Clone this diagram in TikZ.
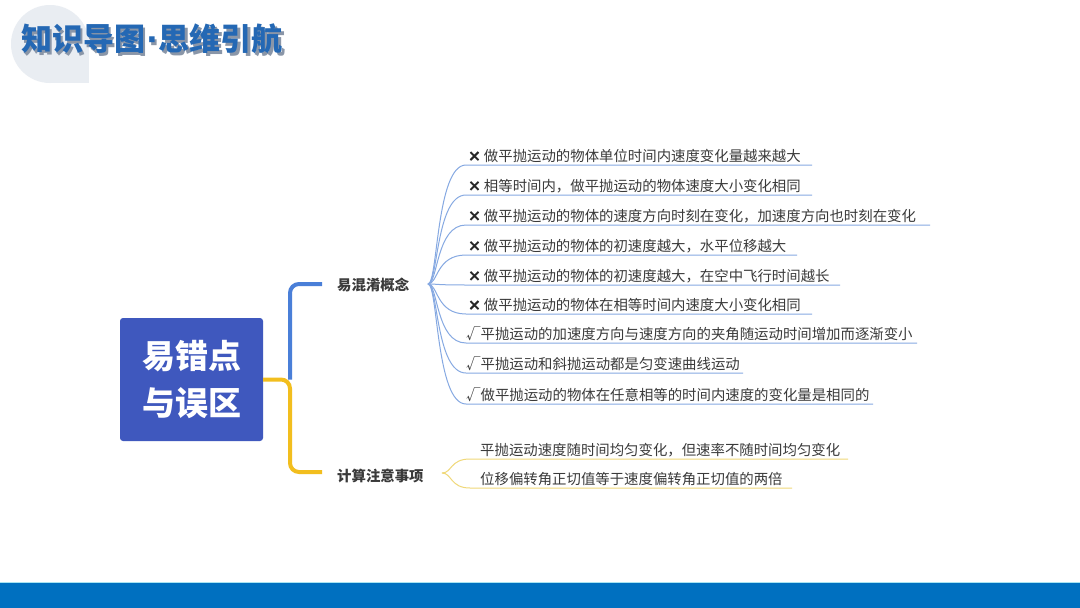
\documentclass[tikz,border=0pt]{standalone}
\usepackage{fontspec}
\setmainfont{Noto Sans CJK SC}
\newfontfamily\dejavu{DejaVu Sans}
\newfontfamily\dejavubold[FakeBold=2.5]{DejaVu Sans}
\definecolor{titleblue}{HTML}{2468B4}
\definecolor{boxblue}{HTML}{3F58BE}
\definecolor{brblue}{HTML}{4A7FD8}
\definecolor{bryellow}{HTML}{F2BE1E}
\definecolor{lnblue}{HTML}{86A9E2}
\definecolor{lnyellow}{HTML}{F0D878}
\definecolor{txt}{HTML}{3A3A3A}
\definecolor{barblue}{HTML}{0070C0}
\definecolor{barline}{HTML}{A8E4F2}
\definecolor{disc}{HTML}{E9EDF2}
\definecolor{tshadow}{HTML}{8A96A8}
\newcommand{\mytitletext}{知识导图{\dejavu\bfseries\kern1pt·\kern1pt}思维引航}
\newcommand{\xmark}{{\dejavubold\fontsize{15}{16}\selectfont\color{black!85}✕}}
\begin{document}
\begin{tikzpicture}[x=1pt,y=-1pt,
  item/.style={anchor=west, inner sep=0pt, text=txt, font=\fontsize{14.4}{16}\selectfont},
  lab/.style={anchor=west, inner sep=0pt, text=txt, font=\bfseries\fontsize{14.4}{16}\selectfont},
  centralbox/.style={fill=boxblue, rounded corners=3pt, minimum width=143pt, minimum height=123pt,
    align=center, text=white, inner sep=0pt, font=\bfseries\fontsize{33}{47}\selectfont},
  bbr/.style={draw=brblue, line width=4pt, rounded corners=9pt},
  ybr/.style={draw=bryellow, line width=4pt, rounded corners=9pt},
  bline/.style={draw=lnblue, line width=1pt},
  yline/.style={draw=lnyellow, line width=1pt},
]
\useasboundingbox (0,0) rectangle (1080,608);
\fill[white] (0,0) rectangle (1080,608);
% top-left disc
\fill[disc] (50,44) circle (39);
\fill[disc] (50,44) rectangle (89,83);
% title with shadow (single node)
\node[anchor=west, inner sep=0pt, text=titleblue, font=\bfseries\fontsize{31}{31}\selectfont] (t) at (21,40)
  {\rlap{\kern2.5pt\raisebox{-2.5pt}{\color{tshadow}\mytitletext}}\mytitletext};
% bottom bar
\fill[barblue] (0,583) rectangle (1080,608);
\draw[barline, line width=1pt] (0,582.5) -- (1080,582.5);
% central box
\node[centralbox] (c) at (191.5,379.5) {易错点\\与误区};
% main branches
\coordinate (j) at (290,379.5);
\coordinate (bl) at (322,284);
\coordinate (yl) at (322,472);
\draw[bbr] (j) -- (j |- bl) -- (bl);
\draw[ybr] (c.east) -- (j) -- (j |- yl) -- (yl);
% labels
\node[lab] (l1) at (337,285) {易混淆概念};
\node[lab] (l2) at (337,476) {计算注意事项};
% blue fan
\coordinate (fb) at (428,284);
\foreach \x/\y/\e/\t [count=\i] in {
  468/165/812/{\xmark\ 做平抛运动的物体单位时间内速度变化量越来越大},
  468/195/812/{\xmark\ 相等时间内，做平抛运动的物体速度大小变化相同},
  468/225/930/{\xmark\ 做平抛运动的物体的速度方向时刻在变化，加速度方向也时刻在变化},
  468/255/797/{\xmark\ 做平抛运动的物体的初速度越大，水平位移越大},
  468/285/840/{\xmark\ 做平抛运动的物体的初速度越大，在空中飞行时间越长},
  468/314/812/{\xmark\ 做平抛运动的物体在相等时间内速度大小变化相同},
  466/343/917/{√平抛运动的加速度方向与速度方向的夹角随运动时间增加而逐渐变小},
  466/373/743/{√平抛运动和斜抛运动都是匀变速曲线运动},
  466/404/873/{√做平抛运动的物体在任意相等的时间内速度的变化量是相同的}} {
  \coordinate (u\i) at (466,\y);
  \coordinate (e\i) at (\e,\y);
  \draw[bline] (fb) .. controls +(10,0) and +(-30,0) .. (u\i) -- (e\i);
  \node[item] (b\i) at (\x,\y-9) {\t};
}
% yellow fan
\coordinate (fy) at (442,473);
\foreach \y/\e/\t [count=\i] in {
  459/848/{平抛运动速度随时间均匀变化，但速率不随时间均匀变化},
  488/792/{位移偏转角正切值等于速度偏转角正切值的两倍}} {
  \coordinate (v\i) at (470,\y);
  \coordinate (w\i) at (\e,\y);
  \draw[yline] (fy) .. controls +(10,0) and +(-20,0) .. (v\i) -- (w\i);
  \node[item] (y\i) at (480,\y-9) {\t};
}
\end{tikzpicture}
\end{document}
